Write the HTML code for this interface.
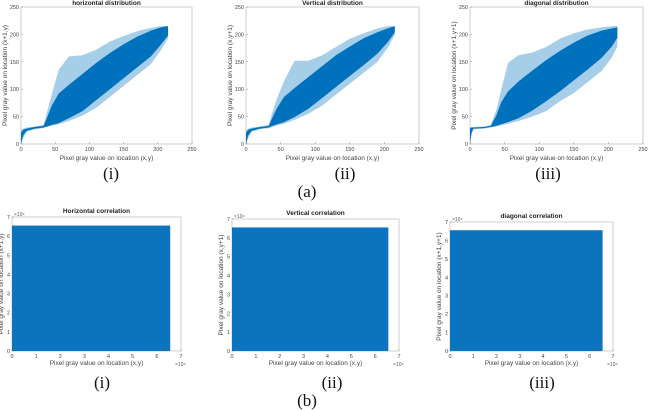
<!DOCTYPE html>
<html><head><meta charset="utf-8"><style>
body{margin:0;background:#fff;width:648px;height:410px;overflow:hidden;font-family:"Liberation Sans",sans-serif}
svg{display:block}
.cap{font-family:"Liberation Serif",serif;font-size:17px;fill:#111}
</style></head><body>
<svg id="fig" width="648" height="410"></svg>
<script>
// Top panels: distribution bands (x -> y ranges)
const hX = [0,3,8,20,33,38,45,55,70,90,110,130,150,170,190,205,215];
const hCoreLo = [0,15,24,28,30,32,35,38,47,60,80,100,120,140,160,182,198];
const hCoreHi = [20,26,28,31,33,48,70,92,108,128,148,166,182,196,207,213,215];
const hOutLo = [0,10,22,27,29,31,33,36,42,52,66,86,106,126,146,172,193];
const hOutHi = [25,28,30,32,35,58,90,135,160,162,172,187,197,206,212,215,215];

const vX = [0,3,8,20,33,38,45,55,70,90,110,130,150,170,190,205,215];
const vCoreLo = [0,15,24,28,30,33,36,40,49,64,84,104,124,144,165,186,204];
const vCoreHi = [20,26,28,31,33,48,66,86,102,122,142,162,178,193,204,211,215];
const vOutLo = [0,10,22,27,29,31,34,37,44,55,70,90,110,130,150,176,199];
const vOutHi = [25,28,30,32,35,58,84,115,152,152,162,177,192,202,211,215,215];

const dX = [0,2,5,20,30,38,45,55,70,90,110,130,150,170,190,205,213];
const dCoreLo = [0,20,28,29,31,33,36,40,47,61,78,96,116,136,157,178,194];
const dCoreHi = [28,30,30,31,33,52,76,96,114,134,153,170,185,198,207,211,213];
const dOutLo = [0,15,27,28,30,32,34,37,42,50,60,78,93,113,133,158,178];
const dOutHi = [30,31,31,32,35,62,98,148,162,167,177,192,202,209,213,215,215];

// Bottom panels: uniform cipher pixel extents
const corrXMax = [65535, 65535, 65535];
const corrYMax = [65535, 65535, 65535];
const topTicks = [0,50,100,150,200,250];
const botTicks = [0,1,2,3,4,5,6,7];

const NS='http://www.w3.org/2000/svg';
const fig=document.getElementById('fig');
function el(tag,attrs,parent,text){const e=document.createElementNS(NS,tag);for(const k in attrs)e.setAttribute(k,attrs[k]);if(text!==undefined)e.textContent=text;(parent||fig).appendChild(e);return e;}

function axesFrame(g,x0,y0,x1,y1,xt,yt,sx,sy,fmt){
  el('rect',{x:x0,y:y0,width:x1-x0,height:y1-y0,fill:'none',stroke:'#bbb','stroke-width':0.7},g);
  xt.forEach(v=>{const x=sx(v);
    const t=el('text',{x:x,y:y1+7,'font-size':5.5,fill:'#444','text-anchor':'middle'},g,fmt(v));
    
    el('line',{x1:x,x2:x,y1:y1,y2:y1-2,stroke:'#888','stroke-width':0.5},g);});
  yt.forEach(v=>{const y=sy(v);
    const t=el('text',{x:x0-2,y:y+2,'font-size':5.5,fill:'#444','text-anchor':'end'},g,fmt(v));
    
    el('line',{x1:x0,x2:x0+2,y1:y,y2:y,stroke:'#888','stroke-width':0.5},g);});
}

function band(g,xs,lo,hi,sx,sy,op){
  let d='M'+xs.map((x,i)=>sx(x)+','+sy(hi[i])).join('L');
  for(let i=xs.length-1;i>=0;i--)d+='L'+sx(xs[i])+','+sy(lo[i]);
  return el('path',{d:d+'Z',fill:'#0072BD','fill-opacity':op},g);
}

function topPanel(name,x0,y0,x1,y1,title,ylab,xs,cl,ch,ol,oh){
  const g=el('g',{});
  const sx=v=>x0+(x1-x0)*v/250, sy=v=>y1-(y1-y0)*v/250;
  axesFrame(g,x0,y0,x1,y1,topTicks,topTicks,sx,sy,v=>v);
  const o=band(g,xs,ol,oh,sx,sy,0.35);
  const c=band(g,xs,cl,ch,sx,sy,1);
  const t=el('text',{x:(x0+x1)/2,y:y0-2,'font-size':6.5,'font-weight':'bold',fill:'#222','text-anchor':'middle'},g,title);
  
  const xl=el('text',{x:(x0+x1)/2,y:y1+16,'font-size':6.5,fill:'#444','text-anchor':'middle'},g,'Pixel gray value on location (x,y)');
  
  const cy=(y0+y1)/2, cx=x0-14;
  const yl=el('text',{x:cx,y:cy,'font-size':6.5,fill:'#444','text-anchor':'middle',transform:`rotate(-90 ${cx} ${cy})`},g,ylab);
  
}

function botPanel(name,idx,x0,y0,x1,y1,title,ylab){
  const g=el('g',{});
  const sx=v=>x0+(x1-x0)*v/7, sy=v=>y1-(y1-y0)*v/7;
  axesFrame(g,x0,y0,x1,y1,botTicks,botTicks,sx,sy,v=>v);
  const r=el('rect',{x:sx(0),y:sy(corrYMax[idx]/1e4),width:sx(corrXMax[idx]/1e4)-sx(0),height:sy(0)-sy(corrYMax[idx]/1e4),fill:'#0C74BE'},g);
  
  el('text',{x:x0+2,y:y0-1,'font-size':5,fill:'#555'},g,'×10⁴');
  el('text',{x:x1-6,y:y1+15,'font-size':5,fill:'#555'},g,'×10⁴');
  const t=el('text',{x:(x0+x1)/2,y:y0-4,'font-size':6.5,'font-weight':'bold',fill:'#222','text-anchor':'middle'},g,title);
  
  const xl=el('text',{x:(x0+x1)/2,y:y1+14,'font-size':6.5,fill:'#444','text-anchor':'middle'},g,'Pixel gray value on location (x,y)');
  
  const cy=(y0+y1)/2, cx=x0-9;
  const yl=el('text',{x:cx,y:cy,'font-size':6.5,fill:'#444','text-anchor':'middle',transform:`rotate(-90 ${cx} ${cy})`},g,ylab);
  
}

topPanel('horizontal-distribution-plot',21,7,192,144,'horizontal distribution','Pixel gray value on location (x+1,y)',hX,hCoreLo,hCoreHi,hOutLo,hOutHi);
topPanel('vertical-distribution-plot',246,7,419,144,'Vertical distribution','Pixel gray value on location (x,y+1)',vX,vCoreLo,vCoreHi,vOutLo,vOutHi);
topPanel('diagonal-distribution-plot',470,7,643,144,'diagonal distribution','Pixel gray value on location (x+1,y+1)',dX,dCoreLo,dCoreHi,dOutLo,dOutHi);
botPanel('horizontal-correlation-plot',0,12,217,181,351,'Horizontal correlation','Pixel gray value on location (x+1,y)');
botPanel('vertical-correlation-plot',1,232,219,399,351,'Vertical correlation','Pixel gray value on location (x,y+1)');
botPanel('diagonal-correlation-plot',2,450,222,613,351,'diagonal correlation','Pixel gray value on location (x+1,y+1)');

[['(i)',111,179],['(ii)',345,179],['(iii)',548,179],['(a)',307,197],['(i)',102,388],['(ii)',332,388],['(iii)',542,388],['(b)',307,406]].forEach(c=>{
  const t=el('text',{x:c[1],y:c[2],'text-anchor':'middle',class:'cap'},fig,c[0]);
  
  
});
</script>
</body></html>
